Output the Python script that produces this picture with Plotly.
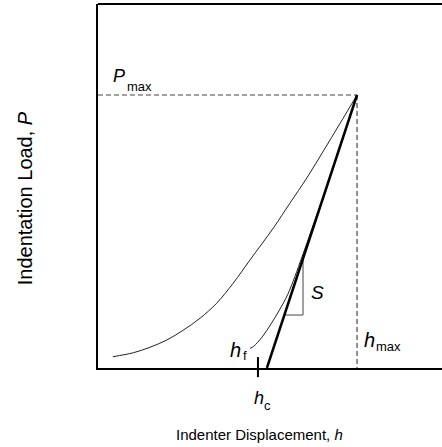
import plotly.graph_objects as go

# Load–displacement record (normalised units: displacement h, load P)
load_h = [0.043, 0.103, 0.151, 0.200, 0.248, 0.297, 0.345, 0.393, 0.442,
          0.510, 0.558, 0.607, 0.655, 0.703, 0.753]
load_P = [0.031, 0.042, 0.057, 0.077, 0.104, 0.137, 0.178, 0.233, 0.297,
          0.385, 0.453, 0.522, 0.596, 0.671, 0.750]

unload_h = [0.753, 0.706, 0.669, 0.631, 0.593, 0.552, 0.526, 0.503, 0.477,
            0.453, 0.442]
unload_P = [0.750, 0.615, 0.508, 0.407, 0.305, 0.203, 0.157, 0.121, 0.085,
            0.060, 0.054]

h_max = 0.753
P_max = 0.750
h_r = 0.491          # intercept of the unloading tangent
h_c = 0.465
h_f = 0.442

# Stiffness triangle on the tangent line
tri_P_low = 0.1456
tri_h_right = 0.596

font_family = "Liberation Sans, Arial, sans-serif"
black = "#000000"
grey = "#444444"

S = P_max / (h_max - h_r)

fig = go.Figure()

# reference lines at P_max and h_max
fig.add_trace(go.Scatter(x=[0, h_max], y=[P_max, P_max], mode="lines",
                         line=dict(color=grey, width=1.2, dash="5px,3px")))
fig.add_trace(go.Scatter(x=[h_max, h_max], y=[P_max, 0], mode="lines",
                         line=dict(color=grey, width=1.2, dash="5px,3px")))

# loading and unloading branches
fig.add_trace(go.Scatter(x=load_h, y=load_P, mode="lines",
                         line=dict(color="#222222", width=1, shape="spline")))
fig.add_trace(go.Scatter(x=unload_h, y=unload_P, mode="lines",
                         line=dict(color="#222222", width=1, shape="spline")))

# contact stiffness triangle
tri_h_low = h_r + tri_P_low / S
tri_P_high = (tri_h_right - h_r) * S
fig.add_trace(go.Scatter(x=[tri_h_low, tri_h_right, tri_h_right],
                         y=[tri_P_low, tri_P_low, tri_P_high], mode="lines",
                         line=dict(color=grey, width=1)))

# tangent to the top of the unloading curve
fig.add_trace(go.Scatter(x=[h_max, h_r], y=[P_max, 0], mode="lines",
                         line=dict(color=black, width=2.5)))

# h_c marker crossing the displacement axis
fig.add_shape(type="line", xref="x", yref="paper", x0=h_c, x1=h_c,
              y0=0.030, y1=-0.025, line=dict(color=black, width=2))

# top border of the frame
fig.add_shape(type="line", xref="paper", yref="paper", x0=0, x1=1.01,
              y0=1, y1=1, line=dict(color=black, width=1.8))

def label(x, y, text, size, xref="x", yref="y", **kw):
    fig.add_annotation(x=x, y=y, xref=xref, yref=yref, text=text,
                       showarrow=False, xanchor=kw.pop("xanchor", "left"),
                       yanchor="middle",
                       font=dict(family=font_family, size=size, color=black),
                       **kw)

label(0.0378, 0.803, "<i>P</i>", 18)
label(0.0785, 0.7734, "max", 13)
label(0.6134, 0.2077, "<i>S</i>", 19)
label(0.7674, 0.0777, "<i>h</i>", 20)
label(0.8023, 0.0599, "max", 13)
label(0.3779, 0.0503, "<i>h</i>", 20)
label(0.4157, 0.0343, "f", 13)
label(0.4477, -0.0816, "<i>h</i>", 18, yref="paper")
label(0.4767, -0.1030, "c", 13, yref="paper")

label(0.4695, -0.1835, "Indenter Displacement, <i>h</i>", 15,
      xref="paper", yref="paper", xanchor="center")
label(-0.2125, 0.466, "Indentation Load, <i>P</i>", 20,
      xref="paper", yref="paper", xanchor="center", textangle=-90)

fig.update_layout(
    width=442, height=447,
    margin=dict(l=98, r=0, t=4, b=79, pad=0),
    paper_bgcolor="white", plot_bgcolor="white",
    showlegend=False,
    font=dict(family=font_family, color=black),
)
fig.update_xaxes(range=[0, 1], showline=True, linecolor=black, linewidth=2,
                 showgrid=False, zeroline=False, showticklabels=False,
                 ticks="", fixedrange=True)
fig.update_yaxes(range=[0, 1], showline=True, linecolor=black, linewidth=2,
                 showgrid=False, zeroline=False, showticklabels=False,
                 ticks="", fixedrange=True)

fig.write_html("out.html", config={"displayModeBar": False})
